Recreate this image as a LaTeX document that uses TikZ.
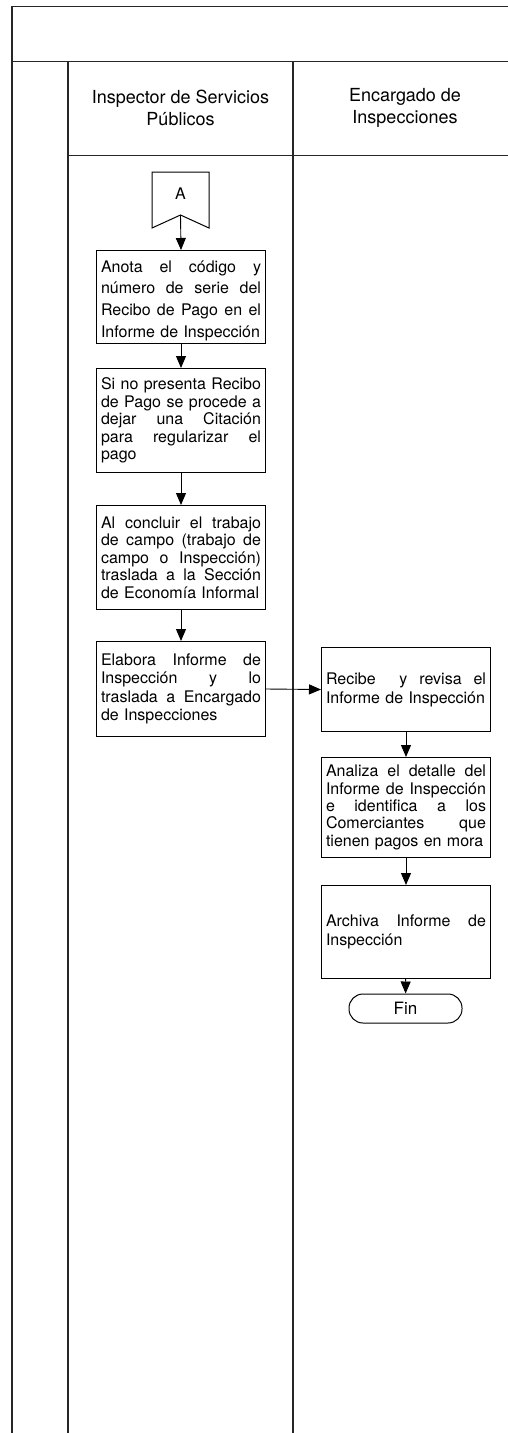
\documentclass[tikz,border=0pt]{standalone}
\usepackage{fontspec}
\setmainfont{TeX Gyre Heros}
\usetikzlibrary{arrows.meta}
\newcommand{\jline}[1]{\makebox[160pt][s]{\spaceskip=0.278em plus 1fil\relax #1}}
\begin{document}
\begin{tikzpicture}[x=1pt,y=-1pt,
  frame/.style={line width=1.6pt, draw=black!85},
  proc/.style={draw, line width=1pt, anchor=north west, text width=160pt,
    inner xsep=4.5pt, inner ysep=2pt, align=left},
  flow/.style={line width=0.9pt, -{Triangle[width=10pt,length=12pt]}},
  hdr/.style={align=center, font=\fontsize{18}{22}\selectfont},
]
\useasboundingbox (0,0) rectangle (508,1433);
% frame
\draw[frame] (12,1433) -- (12,6.5) -- (508,6.5);
\draw[frame] (12,61.5) -- (508,61.5);
\draw[frame] (68,61.5) -- (68,1433);
\draw[frame] (293,61.5) -- (293,1433);
\draw[frame] (68,155.5) -- (508,155.5);
% headers
\node[hdr] (h1) at (180.5,108) {Inspector de Servicios\\Públicos};
\node[hdr] (h2) at (405,108) {Encargado de\\Inspecciones};
% off-page connector A
\draw[line width=1pt] (152,172) -- (209,172) -- (209,228) -- (180.5,215) -- (152,228) -- cycle;
\coordinate (Anotch) at (180.5,215);
\node[font=\fontsize{16}{19}\selectfont] (A) at (180.5,194) {A};
% lane 1 boxes
\node[proc, minimum height=93pt, inner ysep=1pt, font=\fontsize{16}{21.7}\selectfont] (b1) at (96,250)
  {\rule{0pt}{19pt}\jline{Anota el código y}\\\jline{número de serie del}\\\jline{Recibo de Pago en el}\\Informe de Inspección};
\node[proc, minimum height=104pt, font=\fontsize{16}{17.6}\selectfont] (b2) at (96,368)
  {\jline{Si no presenta Recibo}\\\jline{de Pago se procede a}\\\jline{dejar una Citación}\\\jline{para regularizar el}\\pago};
\node[proc, minimum height=104pt, font=\fontsize{16}{17.6}\selectfont] (b3) at (96,505)
  {\jline{Al concluir el trabajo}\\\jline{de campo (trabajo de}\\\jline{campo o Inspección)}\\\jline{traslada a la Sección}\\de Economía Informal};
\node[proc, minimum height=95pt, font=\fontsize{16}{18.3}\selectfont] (b4) at (96,641)
  {\jline{Elabora Informe de}\\\jline{Inspección y lo}\\\jline{traslada a Encargado}\\de Inspecciones};
% lane 2 boxes
\node[proc, minimum height=84pt, font=\fontsize{16}{19}\selectfont] (b5) at (321,647)
  {\jline{Recibe \ y revisa el}\\Informe de Inspección};
\node[proc, minimum height=100pt, font=\fontsize{16}{17.3}\selectfont] (b6) at (321,757)
  {\jline{Analiza el detalle del}\\\jline{Informe de Inspección}\\\jline{e identifica a los}\\\jline{Comerciantes que}\\tienen pagos en mora};
\node[proc, minimum height=93pt, font=\fontsize{16}{18.3}\selectfont] (b7) at (321,885)
  {\jline{Archiva Informe de}\\Inspección};
\node[draw, line width=1pt, rounded corners=14pt, minimum width=113pt, minimum height=29pt,
  inner sep=0pt, font=\fontsize{17}{20}\selectfont] (fin) at (405.5,1008.5) {Fin};
% connectors
\draw[flow] (Anotch) -- (b1.north);
\draw[flow] (b1) -- (b2);
\draw[flow] (b2) -- (b3);
\draw[flow] (b3) -- (b4);
\draw[flow] (b4.east) -- (b5.west);
\draw[flow] (b5) -- (b6);
\draw[flow] (b6) -- (b7);
\draw[flow] (b7) -- (fin);
\end{tikzpicture}
\end{document}
